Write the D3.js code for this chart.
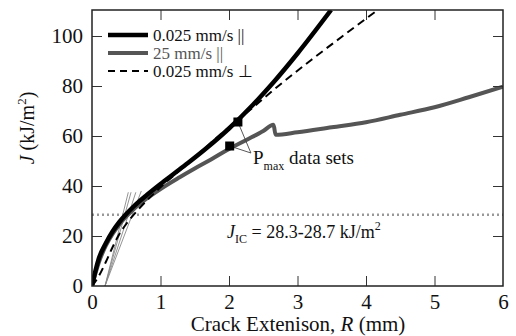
<!DOCTYPE html>
<html><head><meta charset="utf-8">
<script src="https://cdn.jsdelivr.net/npm/d3@7/dist/d3.min.js"></script>
<style>
body{margin:0;background:#fff;}
</style></head>
<body><svg id="c" width="516" height="336"></svg>
<script>
// ---- data ----
const xTicks = [0, 1, 2, 3, 4, 5, 6];
const yTicks = [0, 20, 40, 60, 80, 100];
const xDomain = [0, 6];
const yDomain = [0, 110.4];

const legendLabels = ["0.025 mm/s ||", "25 mm/s ||", "0.025 mm/s \u22A5"];

// 0.025 mm/s parallel (black solid)
const slowParR = [0, 0.05, 0.1, 0.2, 0.3, 0.4, 0.5, 0.6, 0.8, 1.0, 1.2, 1.4, 1.7, 2.0, 2.35, 2.65, 3.0, 3.49];
const slowParJ = [0, 6, 11, 17, 21.8, 25.6, 28.8, 31.6, 36.4, 40.8, 45, 49.2, 55.8, 63, 72.5, 81.5, 93, 110.4];

// 25 mm/s parallel (gray solid)
const fastParR = [0, 0.05, 0.1, 0.2, 0.3, 0.4, 0.5, 0.6, 0.8, 1.0, 1.28, 1.5, 1.75, 2.0, 2.26, 2.5, 2.65, 2.68, 3.0, 3.5, 4.0, 4.5, 5.0, 5.5, 6.0];
const fastParJ = [0, 5, 9.5, 16, 20.8, 24.6, 27.8, 30.5, 35, 38.8, 43.5, 47, 50.8, 54.8, 58.5, 62, 64.5, 60.5, 61.5, 63.5, 65.5, 68.5, 71.5, 75.5, 79.7];

// 0.025 mm/s perpendicular (dashed)
const slowPerpR = [0, 0.1, 0.2, 0.3, 0.4, 0.5, 0.67, 1.0, 1.4, 1.87, 2.31, 2.65, 3.2, 3.7, 4.17];
const slowPerpJ = [0, 4, 9.5, 15.5, 20.8, 24.8, 30.4, 39.5, 49, 60.5, 70.5, 78.4, 90.4, 100.8, 110.4];

// thin construction (offset) lines
const constrR0 = [0.19, 0.19, 0.19, 0.19];
const constrR1 = [0.53, 0.57, 0.64, 0.72];
const constrJ0 = [0, 0, 0, 0];
const constrJ1 = [37.5, 37.5, 37.5, 38];

// J_IC band
const jicValues = [28.3, 28.7];

// Pmax points
const pmaxR = [2.13, 2.01];
const pmaxJ = [65.6, 56];
const pmaxLabelR = 2.32, pmaxLabelJ = 53.2;

// ---- pick an installed serif font ----
function pickFont() {
  const cands = ["Liberation Serif", "Tinos", "DejaVu Serif", "Times New Roman", "Noto Serif", "FreeSerif", "Nimbus Roman", "Times"];
  const ctx = document.createElement("canvas").getContext("2d");
  const s = "Crack Extenison 0123456789 mmWil";
  const w = f => { ctx.font = "40px " + f; return ctx.measureText(s).width; };
  const bm = w("monospace"), bs = w("sans-serif");
  for (const c of cands) {
    if (w(`"${c}", monospace`) !== bm || w(`"${c}", sans-serif`) !== bs) return `"${c}"`;
  }
  return "serif";
}
const FONT = pickFont();

// ---- drawing ----
const svg = d3.select("#c");
const m = {l: 92, r: 503, t: 10, b: 286};
const x = d3.scaleLinear().domain(xDomain).range([m.l, m.r]);
const y = d3.scaleLinear().domain(yDomain).range([m.b, m.t]);

svg.append("clipPath").attr("id", "pc").append("rect")
  .attr("x", m.l).attr("y", m.t).attr("width", m.r - m.l).attr("height", m.b - m.t);
const plot = svg.append("g").attr("clip-path", "url(#pc)");

jicValues.forEach(v => {
  plot.append("line").attr("x1", x(0)).attr("x2", x(6)).attr("y1", y(v)).attr("y2", y(v))
    .attr("stroke", "#999").attr("stroke-width", 1.3).attr("stroke-dasharray", "2,3");
});

constrR0.forEach((r0, i) => {
  plot.append("line").attr("x1", x(r0)).attr("y1", y(constrJ0[i]))
    .attr("x2", x(constrR1[i])).attr("y2", y(constrJ1[i]))
    .attr("stroke", "#888").attr("stroke-width", 0.9);
});

const line = d3.line().x(d => x(d[0])).y(d => y(d[1])).curve(d3.curveMonotoneX);
const zip = (a, b) => a.map((v, i) => [v, b[i]]);

plot.append("path").datum(zip(fastParR, fastParJ)).attr("d", line)
  .attr("fill", "none").attr("stroke", "#555").attr("stroke-width", 4).attr("stroke-linejoin", "round");
plot.append("path").datum(zip(slowPerpR, slowPerpJ)).attr("d", line)
  .attr("fill", "none").attr("stroke", "#000").attr("stroke-width", 2).attr("stroke-dasharray", "8,5");
plot.append("path").datum(zip(slowParR, slowParJ)).attr("d", line)
  .attr("fill", "none").attr("stroke", "#000").attr("stroke-width", 4.5).attr("stroke-linejoin", "round");

pmaxR.forEach((r, i) => {
  plot.append("line").attr("x1", x(r)).attr("y1", y(pmaxJ[i]))
    .attr("x2", x(pmaxLabelR)).attr("y2", y(pmaxLabelJ))
    .attr("stroke", "#444").attr("stroke-width", 0.9);
});
pmaxR.forEach((r, i) => {
  plot.append("rect").attr("x", x(r) - 4.5).attr("y", y(pmaxJ[i]) - 4.5)
    .attr("width", 9).attr("height", 9).attr("fill", "#000");
});

const tl = 10;
const fmt = d3.format("d");
svg.append("g").attr("transform", `translate(0,${m.b})`)
  .call(d3.axisBottom(x).tickValues(xTicks).tickFormat(fmt).tickSizeInner(-tl).tickSizeOuter(0).tickPadding(8))
  .call(g => { g.select(".domain").remove(); g.selectAll("line").filter(d => d === 0 || d === 6).remove(); });
svg.append("g").attr("transform", `translate(0,${m.t})`)
  .call(d3.axisTop(x).tickValues(xTicks.filter(d => d > 0 && d < 6)).tickSizeInner(-tl).tickSizeOuter(0).tickFormat(""))
  .call(g => g.select(".domain").remove());
svg.append("g").attr("transform", `translate(${m.l},0)`)
  .call(d3.axisLeft(y).tickValues(yTicks).tickFormat(fmt).tickSizeInner(-tl).tickSizeOuter(0).tickPadding(9))
  .call(g => { g.select(".domain").remove(); g.selectAll("line").filter(d => d === 0).remove(); });
svg.append("g").attr("transform", `translate(${m.r},0)`)
  .call(d3.axisRight(y).tickValues(yTicks.filter(d => d > 0)).tickSizeInner(-tl).tickSizeOuter(0).tickFormat(""))
  .call(g => g.select(".domain").remove());
svg.selectAll("g").attr("font-family", FONT);
svg.selectAll(".tick line").attr("stroke", "#333").attr("stroke-width", 1);
svg.selectAll(".tick text").attr("font-family", FONT).attr("font-size", 21).attr("fill", "#111");

svg.append("rect").attr("x", m.l).attr("y", m.t).attr("width", m.r - m.l).attr("height", m.b - m.t)
  .attr("fill", "none").attr("stroke", "#222").attr("stroke-width", 1.5);

const legColors = ["#000", "#555", "#000"];
const legWidths = [4.5, 4, 2];
const legDash = [null, null, "7,5"];
const legTextColors = ["#111", "#555", "#111"];
legendLabels.forEach((lab, i) => {
  const ly = 35 + i * 18;
  svg.append("line").attr("x1", 108).attr("x2", 148).attr("y1", ly).attr("y2", ly)
    .attr("stroke", legColors[i]).attr("stroke-width", legWidths[i])
    .attr("stroke-dasharray", legDash[i]);
  svg.append("text").attr("x", 153).attr("y", ly + 6).attr("font-family", FONT).attr("font-size", 17)
    .attr("fill", legTextColors[i]).text(lab);
});

const jt = svg.append("text").attr("x", 227).attr("y", 238).attr("font-family", FONT).attr("font-size", 18).attr("fill", "#111");
jt.append("tspan").attr("font-style", "italic").text("J");
jt.append("tspan").attr("font-size", 12).attr("dy", 5).text("IC");
jt.append("tspan").attr("dy", -5).text(" = 28.3-28.7 kJ/m");
jt.append("tspan").attr("font-size", 12).attr("dy", -8).text("2");

const pt = svg.append("text").attr("x", 253).attr("y", 164).attr("font-family", FONT).attr("font-size", 19).attr("fill", "#111");
pt.append("tspan").text("P");
pt.append("tspan").attr("font-size", 12).attr("dy", 6).text("max");
pt.append("tspan").attr("dy", -6).text(" data sets");

const xt = svg.append("text").attr("x", 298).attr("y", 331).attr("text-anchor", "middle")
  .attr("font-family", FONT).attr("font-size", 21).attr("fill", "#111");
xt.append("tspan").text("Crack Extenison, ");
xt.append("tspan").attr("font-style", "italic").text("R");
xt.append("tspan").text(" (mm)");

const yt = svg.append("text").attr("transform", "translate(34,128) rotate(-90)")
  .attr("text-anchor", "middle").attr("font-family", FONT).attr("font-size", 20).attr("fill", "#111");
yt.append("tspan").attr("font-style", "italic").text("J");
yt.append("tspan").text(" (kJ/m");
yt.append("tspan").attr("font-size", 13).attr("dy", -8).text("2");
yt.append("tspan").attr("dy", 8).text(")");
</script></body></html>
